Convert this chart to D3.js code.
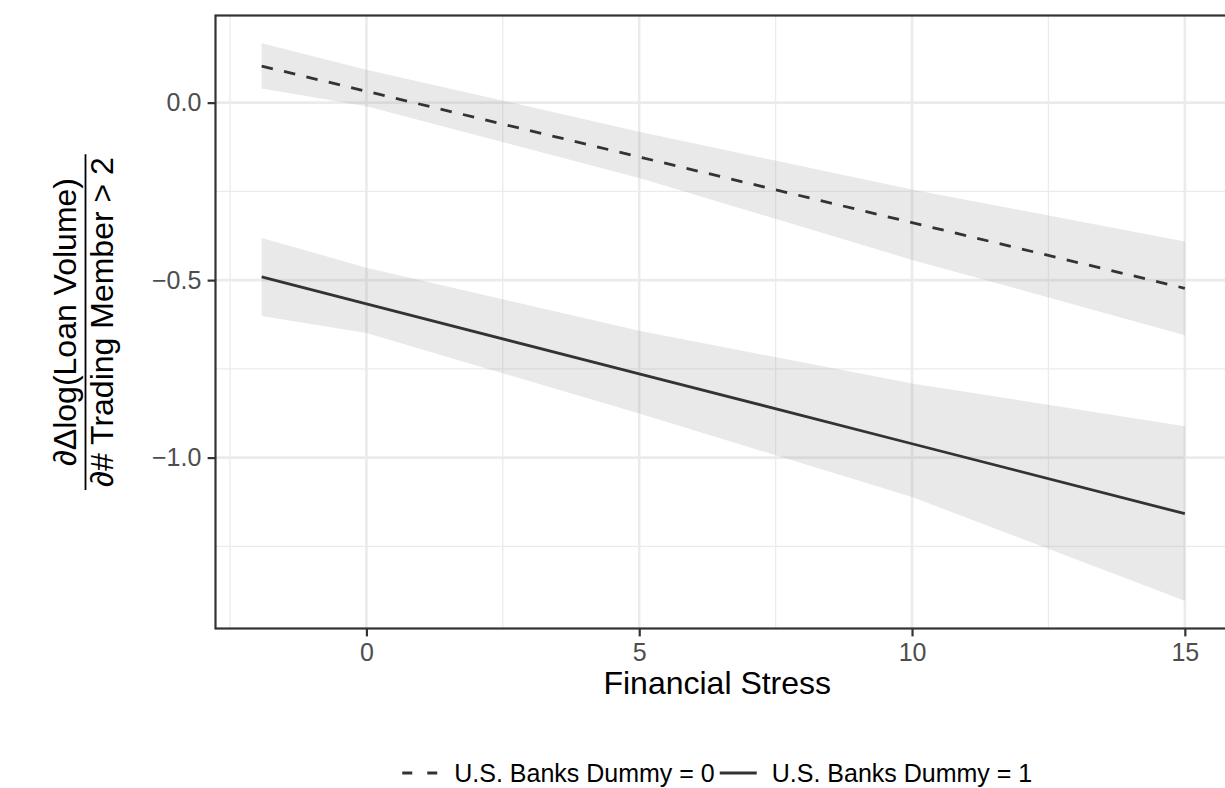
<!DOCTYPE html>
<html>
<head>
<meta charset="utf-8">
<script src="https://cdn.jsdelivr.net/npm/d3@7"></script>
<style>
  html, body { margin: 0; padding: 0; background: #ffffff; }
  svg { display: block; font-family: "Liberation Sans", Arial, Helvetica, sans-serif; }
</style>
</head>
<body>
<svg id="chart" width="1225" height="788"></svg>
<script>
// Marginal effect of trading-member count on loan volume growth,
// by U.S. bank dummy, across financial stress levels.
const stress = [-1.92, 0, 5, 10, 15];

// Point estimates (linear in stress)
const fit0 = [0.103, 0.032, -0.153, -0.338, -0.523];
const fit1 = [-0.491, -0.567, -0.764, -0.961, -1.158];

// Confidence bands
const lower0 = [0.040, -0.010, -0.212, -0.443, -0.655];
const upper0 = [0.167, 0.093, -0.082, -0.245, -0.391];
const lower1 = [-0.601, -0.649, -0.876, -1.111, -1.403];
const upper1 = [-0.381, -0.465, -0.643, -0.791, -0.912];

const groups = ["U.S. Banks Dummy = 0", "U.S. Banks Dummy = 1"];
const xTicks = [0, 5, 10, 15];
const xMinor = [-2.5, 2.5, 7.5, 12.5];
const yTicks = [0, -0.5, -1.0];
const yMinor = [-0.25, -0.75, -1.25];

const series = [
  { name: groups[0], fit: fit0, lo: lower0, hi: upper0, dash: "11.5,11.5" },
  { name: groups[1], fit: fit1, lo: lower1, hi: upper1, dash: null }
];

const svg = d3.select("#chart");
const panel = { left: 215.5, top: 15.5, right: 1231, bottom: 628.5 };

// 5% expansion of the data range on each side
function expand(ext) {
  const d = ext[1] - ext[0];
  return [ext[0] - 0.05 * d, ext[1] + 0.05 * d];
}
const xExt = d3.extent(stress);
const yExt = d3.extent([].concat(lower0, upper0, lower1, upper1));

const x = d3.scaleLinear().domain(expand(xExt)).range([panel.left, panel.right]);
const y = d3.scaleLinear().domain(expand(yExt)).range([panel.bottom, panel.top]);

const gridColor = "#EBEBEB";
const inkColor = "#333333";
const tickFont = 25;
const titleFont = 32;

// Grid lines
const grid = svg.append("g");
grid.selectAll("line.xmin").data(xMinor).join("line")
  .attr("x1", d => x(d)).attr("x2", d => x(d))
  .attr("y1", panel.top).attr("y2", panel.bottom)
  .attr("stroke", gridColor).attr("stroke-width", 1.3);
grid.selectAll("line.ymin").data(yMinor).join("line")
  .attr("x1", panel.left).attr("x2", panel.right)
  .attr("y1", d => y(d)).attr("y2", d => y(d))
  .attr("stroke", gridColor).attr("stroke-width", 1.3);
grid.selectAll("line.xmaj").data(xTicks).join("line")
  .attr("x1", d => x(d)).attr("x2", d => x(d))
  .attr("y1", panel.top).attr("y2", panel.bottom)
  .attr("stroke", gridColor).attr("stroke-width", 2.6);
grid.selectAll("line.ymaj").data(yTicks).join("line")
  .attr("x1", panel.left).attr("x2", panel.right)
  .attr("y1", d => y(d)).attr("y2", d => y(d))
  .attr("stroke", gridColor).attr("stroke-width", 2.6);

// Confidence ribbons
const area = d3.area()
  .x(d => x(d.x)).y0(d => y(d.lo)).y1(d => y(d.hi));
series.forEach(s => {
  const pts = stress.map((v, i) => ({ x: v, lo: s.lo[i], hi: s.hi[i] }));
  svg.append("path").datum(pts)
    .attr("d", area)
    .attr("fill", "#999999")
    .attr("fill-opacity", 0.22);
});

// Fitted lines
const line = d3.line().x(d => x(d.x)).y(d => y(d.y));
series.forEach(s => {
  const pts = stress.map((v, i) => ({ x: v, y: s.fit[i] }));
  svg.append("path").datum(pts)
    .attr("d", line)
    .attr("fill", "none")
    .attr("stroke", inkColor)
    .attr("stroke-width", 2.8)
    .attr("stroke-dasharray", s.dash);
});

// Panel border
svg.append("rect")
  .attr("x", panel.left).attr("y", panel.top)
  .attr("width", panel.right - panel.left).attr("height", panel.bottom - panel.top)
  .attr("fill", "none").attr("stroke", inkColor).attr("stroke-width", 2.2);

// Axes
const xAxis = svg.append("g")
  .attr("transform", `translate(0,${panel.bottom})`)
  .call(d3.axisBottom(x).tickValues(xTicks).tickFormat(d3.format("d")).tickSize(7.9).tickPadding(6.6));
const yAxis = svg.append("g")
  .attr("transform", `translate(${panel.left},0)`)
  .call(d3.axisLeft(y).tickValues(yTicks).tickFormat(d => d3.format(".1f")(d).replace("-", "\u2212")).tickSize(7.9).tickPadding(6.3));
[xAxis, yAxis].forEach(a => {
  a.select(".domain").remove();
  a.selectAll(".tick line").attr("stroke", inkColor).attr("stroke-width", 2.2);
  a.selectAll(".tick text").attr("fill", "#4D4D4D").attr("font-size", tickFont)
    .attr("font-family", "Liberation Sans, Arial, sans-serif");
});

// X axis title
svg.append("text")
  .attr("x", (panel.left + panel.right) / 2 - 6)
  .attr("y", 694)
  .attr("text-anchor", "middle")
  .attr("font-size", titleFont)
  .attr("fill", "#000")
  .text("Financial Stress");

// Y axis title as a fraction
const cy = (panel.top + panel.bottom) / 2;
const yt = svg.append("g").attr("transform", `translate(0,${cy}) rotate(-90)`);
const num = yt.append("text").attr("x", 0).attr("y", 76)
  .attr("text-anchor", "middle").attr("font-size", titleFont).attr("fill", "#000")
  .text("\u2202\u0394log(Loan Volume)");
const den = yt.append("text").attr("x", 0).attr("y", 113)
  .attr("text-anchor", "middle").attr("font-size", titleFont).attr("fill", "#000")
  .text("\u2202# Trading Member > 2");
const barLen = Math.max(num.node().getComputedTextLength(), den.node().getComputedTextLength()) + 6;
yt.append("line")
  .attr("x1", -barLen / 2).attr("x2", barLen / 2)
  .attr("y1", 85.5).attr("y2", 85.5)
  .attr("stroke", "#000").attr("stroke-width", 1.8);

// Legend
const legend = svg.append("g");
const keyW = 37, keyGap = 15, itemGap = 5, legY = 773;
let cursor = 0;
series.forEach(s => {
  const g = legend.append("g").attr("transform", `translate(${cursor},0)`);
  g.append("line")
    .attr("x1", 0).attr("x2", keyW).attr("y1", 0).attr("y2", 0)
    .attr("stroke", inkColor).attr("stroke-width", 2.8)
    .attr("stroke-dasharray", s.dash ? "10,15" : null);
  const t = g.append("text")
    .attr("x", keyW + keyGap).attr("y", 0).attr("dy", "0.36em")
    .attr("font-size", tickFont).attr("fill", "#000")
    .text(s.name);
  cursor += keyW + keyGap + t.node().getComputedTextLength() + itemGap;
});
const legW = cursor - itemGap;
legend.attr("transform", `translate(${(panel.left + panel.right) / 2 - 6 - legW / 2},${legY})`);
</script>
</body>
</html>
